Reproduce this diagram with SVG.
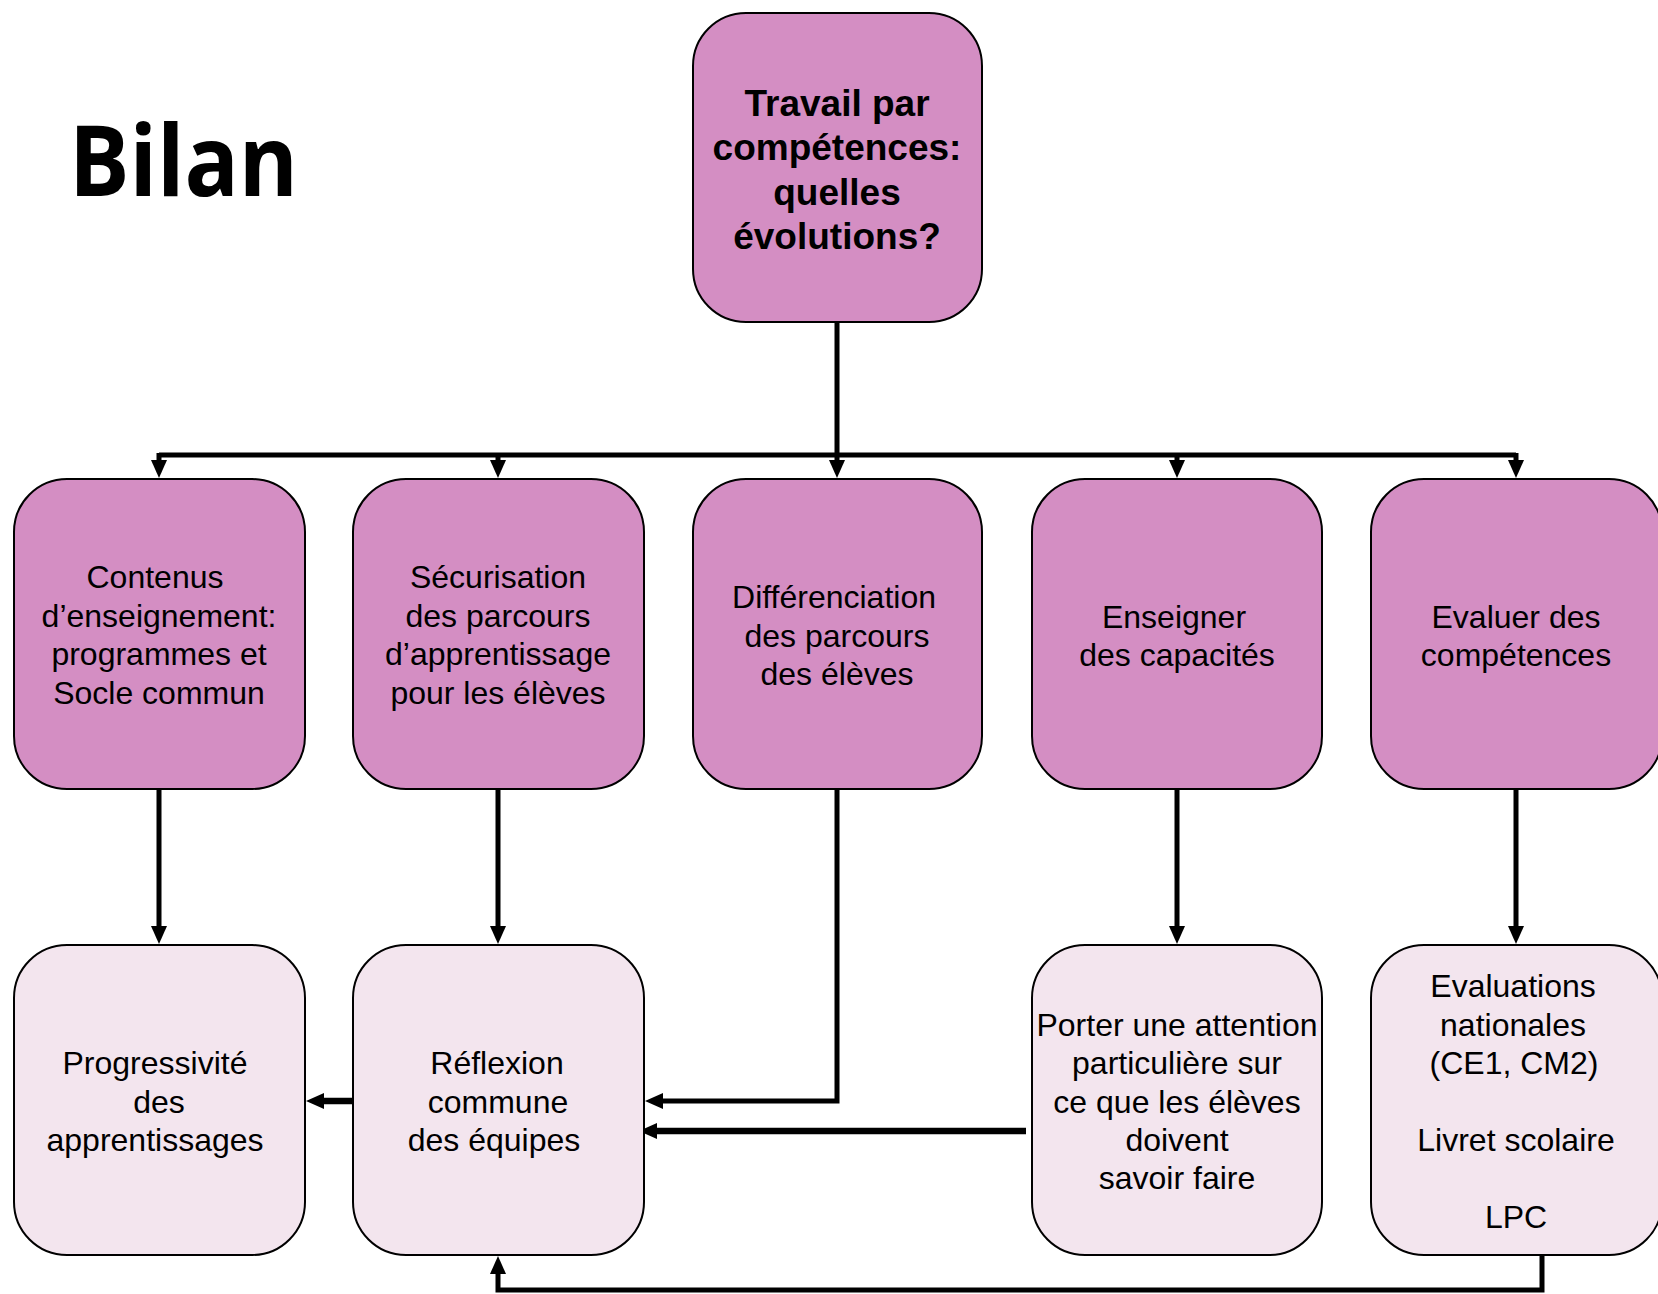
<svg xmlns="http://www.w3.org/2000/svg" width="1658" height="1294" viewBox="0 0 1658 1294">
<style>
.n1 { fill: #D48EC3; stroke: #000; stroke-width: 2; }
.n2 { fill: #F3E5EE; stroke: #000; stroke-width: 2; }
.t { font-family: "Liberation Sans", Arial, sans-serif; font-size: 32px; fill: #000; text-anchor: middle; }
.tb { font-family: "Liberation Sans", Arial, sans-serif; font-size: 37px; font-weight: bold; fill: #000; text-anchor: middle; }
.title { font-family: "Open Sans", "DejaVu Sans", sans-serif; font-size: 98px; font-weight: bold; fill: #000; }
.c { fill: none; stroke: #000; stroke-width: 5; stroke-linejoin: miter; }
.cw { fill: none; stroke: #000; stroke-width: 6.5; stroke-linejoin: miter; }
</style>
<defs>
<marker id="ah" viewBox="0 0 18 16" refX="6" refY="8" markerWidth="18" markerHeight="16" markerUnits="userSpaceOnUse" orient="auto">
<path d="M0,0 L18,8 L0,16 z" fill="#000"/>
</marker>
</defs>
<rect width="1658" height="1294" fill="#fff"/>
<text class="title" x="69" y="196" textLength="229" lengthAdjust="spacingAndGlyphs">Bilan</text>

<g id="connectors">
<path class="c" d="M159,455 H1516"/>
<path class="c" d="M837,322 V466" marker-end="url(#ah)"/>
<path class="c" d="M159,453 V466" marker-end="url(#ah)"/>
<path class="c" d="M498,455 V466" marker-end="url(#ah)"/>
<path class="c" d="M1177,455 V466" marker-end="url(#ah)"/>
<path class="c" d="M1516,453 V466" marker-end="url(#ah)"/>
<path class="c" d="M159,789 V932" marker-end="url(#ah)"/>
<path class="c" d="M498,789 V932" marker-end="url(#ah)"/>
<path class="c" d="M1177,789 V932" marker-end="url(#ah)"/>
<path class="c" d="M1516,789 V932" marker-end="url(#ah)"/>
<path class="c" d="M837,789 V1101 H657" marker-end="url(#ah)"/>
<path class="cw" d="M1026,1131 H651" marker-end="url(#ah)"/>
<path class="cw" d="M353,1101 H318" marker-end="url(#ah)"/>
<path class="c" d="M1542,1255 V1290 H498 V1268" marker-end="url(#ah)"/>
</g>

<g id="n-top">
<rect class="n1" x="693" y="13" width="289" height="309" rx="53" ry="53"/>
<text class="tb" x="837" y="116">Travail par</text>
<text class="tb" x="837" y="160">compétences:</text>
<text class="tb" x="837" y="205">quelles</text>
<text class="tb" x="837" y="249">évolutions?</text>
</g>

<g id="n-contenus">
<rect class="n1" x="14" y="479" width="291" height="310" rx="53" ry="53"/>
<text class="t" x="155" y="588">Contenus</text>
<text class="t" x="159" y="627">d’enseignement:</text>
<text class="t" x="159" y="665">programmes et</text>
<text class="t" x="159" y="704">Socle commun</text>
</g>

<g id="n-securisation">
<rect class="n1" x="353" y="479" width="291" height="310" rx="53" ry="53"/>
<text class="t" x="498" y="588">Sécurisation</text>
<text class="t" x="498" y="627">des parcours</text>
<text class="t" x="498" y="665">d’apprentissage</text>
<text class="t" x="498" y="704">pour les élèves</text>
</g>

<g id="n-differenciation">
<rect class="n1" x="693" y="479" width="289" height="310" rx="53" ry="53"/>
<text class="t" x="834" y="608">Différenciation</text>
<text class="t" x="837" y="647">des parcours</text>
<text class="t" x="837" y="685">des élèves</text>
</g>

<g id="n-enseigner">
<rect class="n1" x="1032" y="479" width="290" height="310" rx="53" ry="53"/>
<text class="t" x="1174" y="628">Enseigner</text>
<text class="t" x="1177" y="666">des capacités</text>
</g>

<g id="n-evaluer">
<rect class="n1" x="1371" y="479" width="291" height="310" rx="53" ry="53"/>
<text class="t" x="1516" y="628">Evaluer des</text>
<text class="t" x="1516" y="666">compétences</text>
</g>

<g id="n-progressivite">
<rect class="n2" x="14" y="945" width="291" height="310" rx="53" ry="53"/>
<text class="t" x="155" y="1074">Progressivité</text>
<text class="t" x="159" y="1113">des</text>
<text class="t" x="155" y="1151">apprentissages</text>
</g>

<g id="n-reflexion">
<rect class="n2" x="353" y="945" width="291" height="310" rx="53" ry="53"/>
<text class="t" x="497" y="1074">Réflexion</text>
<text class="t" x="498" y="1113">commune</text>
<text class="t" x="494" y="1151">des équipes</text>
</g>

<g id="n-porter">
<rect class="n2" x="1032" y="945" width="290" height="310" rx="53" ry="53"/>
<text class="t" x="1177" y="1036">Porter une attention</text>
<text class="t" x="1177" y="1074">particulière sur</text>
<text class="t" x="1177" y="1113">ce que les élèves</text>
<text class="t" x="1177" y="1151">doivent</text>
<text class="t" x="1177" y="1189">savoir faire</text>
</g>

<g id="n-evaluations">
<rect class="n2" x="1371" y="945" width="291" height="310" rx="53" ry="53"/>
<text class="t" x="1513" y="997">Evaluations</text>
<text class="t" x="1513" y="1036">nationales</text>
<text class="t" x="1514" y="1074">(CE1, CM2)</text>
<text class="t" x="1516" y="1151">Livret scolaire</text>
<text class="t" x="1516" y="1228">LPC</text>
</g>
</svg>
